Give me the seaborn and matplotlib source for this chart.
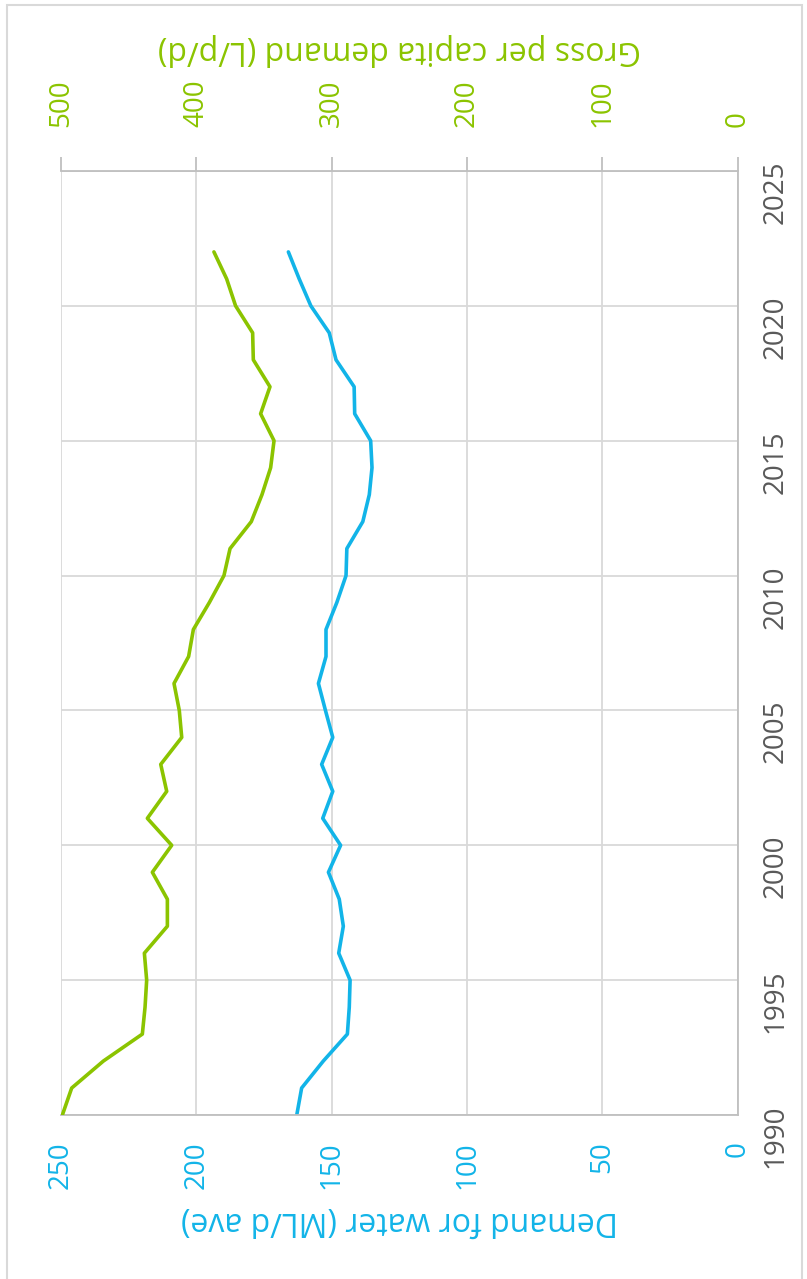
import numpy as np
import pandas as pd
import seaborn as sns
from matplotlib import pyplot as plt
from matplotlib.patches import Rectangle

years = list(range(1990, 2023))
demand = [162.9, 161.1, 153.1, 144.2, 143.5, 143.2, 147.4, 145.7, 147.2, 151.2,
          146.7, 153.3, 149.6, 153.7, 149.6, 152.3, 154.9, 152.1, 152.1, 148.1,
          144.7, 144.4, 138.5, 136.1, 135.1, 135.6, 141.5, 141.7, 148.4, 150.9,
          157.7, 162.0, 166.0]
gross = [499.0, 492.1, 468.7, 439.9, 437.9, 436.7, 438.4, 421.4, 421.4, 432.5,
         418.2, 436.2, 421.9, 426.3, 410.8, 412.6, 416.5, 405.7, 402.2, 390.4,
         379.6, 375.1, 359.4, 351.5, 345.1, 342.6, 352.5, 345.6, 357.9, 358.4,
         371.0, 377.6, 387.0]
demand_ticks = [0, 50, 100, 150, 200, 250]
gross_ticks = [0, 100, 200, 300, 400, 500]
year_ticks = [1990, 1995, 2000, 2005, 2010, 2015, 2020, 2025]

df = pd.DataFrame({'year': years, 'demand': demand, 'gross': gross})

blue = '#12B4E8'
green = '#8BC400'
grey_txt = '#595959'
grid_c = '#D9D9D9'
axis_c = '#BFBFBF'

sns.set_style('white')
plt.rcParams['font.family'] = ['Open Sans', 'DejaVu Sans']

W, H = 807, 1279
fig = plt.figure(figsize=(W / 100, H / 100), dpi=100)
fig.patches.append(Rectangle((7 / W, -0.01), 795 / W, 1.0 - 5 / H + 0.01,
                             transform=fig.transFigure, fill=False,
                             edgecolor=grid_c, lw=1.5))

# chart is drawn turned a quarter turn: years run upward, values run right-to-left
ax = fig.add_axes([61 / W, (H - 1115) / H, 676.7 / W, 944 / H])
sns.lineplot(data=df, x='demand', y='year', orient='y', estimator=None,
             color=blue, lw=2.6, ax=ax)
ax.set_xlim(250, 0)
ax.set_ylim(1990, 2025)
ax.set_xticks(demand_ticks)
ax.set_yticks(year_ticks)
ax.grid(True, color=grid_c, lw=1.3)
ax.yaxis.tick_right()
ax.tick_params(axis='x', labelrotation=90, colors=blue, labelsize=20, length=0, pad=19)
ax.tick_params(axis='y', labelrotation=90, labelcolor=grey_txt, labelsize=20, length=0, pad=17)
ax.set_xlabel('Demand for water (ML/d ave)', color=blue, fontsize=23,
              rotation=180, labelpad=11)
ax.set_ylabel('')
for s in ['left', 'top']:
    ax.spines[s].set_visible(False)
for s in ['right', 'bottom']:
    ax.spines[s].set_color(axis_c)
    ax.spines[s].set_linewidth(1.3)

ax2 = ax.twiny()
sns.lineplot(data=df, x='gross', y='year', orient='y', estimator=None,
             color=green, lw=2.6, ax=ax2)
ax2.set_xlim(500, 0)
ax2.set_xticks(gross_ticks)
ax2.tick_params(axis='x', labelrotation=90, colors=axis_c, labelcolor=green,
                labelsize=20, length=10, width=1.3, direction='out', pad=22)
ax2.set_xlabel('Gross per capita demand (L/p/d)', color=green, fontsize=23,
               rotation=180, labelpad=15)
ax2.set_ylabel('')
for s in ['left', 'right', 'bottom']:
    ax2.spines[s].set_visible(False)
ax2.spines['top'].set_color(axis_c)
ax2.spines['top'].set_linewidth(1.3)

fig.savefig('out.png', dpi=100)
